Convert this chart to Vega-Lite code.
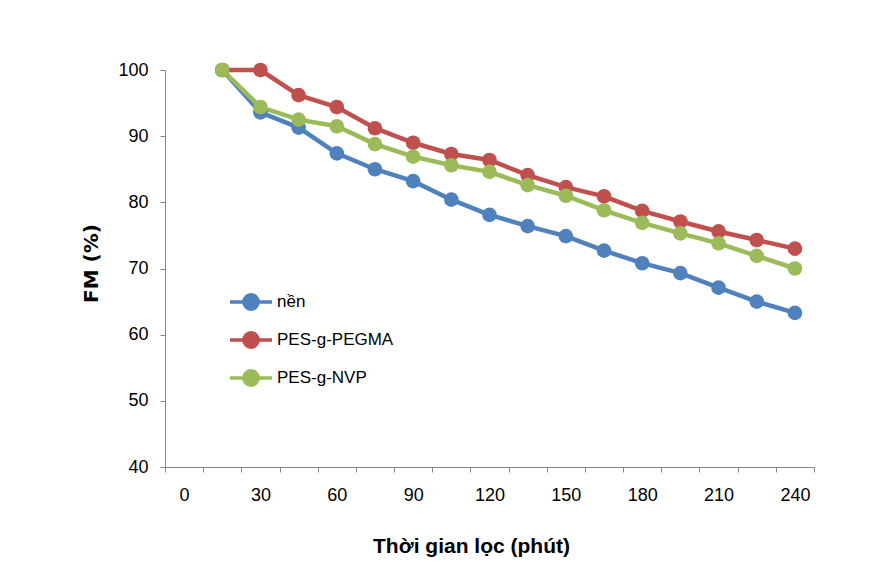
{
  "$schema": "https://vega.github.io/schema/vega-lite/v6.json",
  "width": 649,
  "height": 397,
  "autosize": "none",
  "padding": {"left": 165, "top": 70, "right": 79, "bottom": 115},
  "background": "white",
  "config": {
    "font": "Liberation Sans",
    "view": {"stroke": null},
    "axis": {
      "domainColor": "#868686",
      "tickColor": "#868686",
      "tickSize": 5,
      "grid": false,
      "labelColor": "#000000",
      "labelFontSize": 18,
      "labelFont": "Liberation Sans",
      "titleColor": "#000000"
    }
  },
  "data": {
    "values": [
      {"t": 15, "series": "nền", "fm": 100},
      {"t": 30, "series": "nền", "fm": 93.6},
      {"t": 45, "series": "nền", "fm": 91.3},
      {"t": 60, "series": "nền", "fm": 87.4},
      {"t": 75, "series": "nền", "fm": 85.0},
      {"t": 90, "series": "nền", "fm": 83.2},
      {"t": 105, "series": "nền", "fm": 80.4},
      {"t": 120, "series": "nền", "fm": 78.1},
      {"t": 135, "series": "nền", "fm": 76.4},
      {"t": 150, "series": "nền", "fm": 74.9},
      {"t": 165, "series": "nền", "fm": 72.7},
      {"t": 180, "series": "nền", "fm": 70.8},
      {"t": 195, "series": "nền", "fm": 69.3},
      {"t": 210, "series": "nền", "fm": 67.1},
      {"t": 225, "series": "nền", "fm": 65.0},
      {"t": 240, "series": "nền", "fm": 63.3},
      {"t": 15, "series": "PES-g-PEGMA", "fm": 100},
      {"t": 30, "series": "PES-g-PEGMA", "fm": 100},
      {"t": 45, "series": "PES-g-PEGMA", "fm": 96.2},
      {"t": 60, "series": "PES-g-PEGMA", "fm": 94.4},
      {"t": 75, "series": "PES-g-PEGMA", "fm": 91.2},
      {"t": 90, "series": "PES-g-PEGMA", "fm": 89.0},
      {"t": 105, "series": "PES-g-PEGMA", "fm": 87.3},
      {"t": 120, "series": "PES-g-PEGMA", "fm": 86.4},
      {"t": 135, "series": "PES-g-PEGMA", "fm": 84.1},
      {"t": 150, "series": "PES-g-PEGMA", "fm": 82.3},
      {"t": 165, "series": "PES-g-PEGMA", "fm": 80.9},
      {"t": 180, "series": "PES-g-PEGMA", "fm": 78.7},
      {"t": 195, "series": "PES-g-PEGMA", "fm": 77.1},
      {"t": 210, "series": "PES-g-PEGMA", "fm": 75.6},
      {"t": 225, "series": "PES-g-PEGMA", "fm": 74.3},
      {"t": 240, "series": "PES-g-PEGMA", "fm": 73.0},
      {"t": 15, "series": "PES-g-NVP", "fm": 100},
      {"t": 30, "series": "PES-g-NVP", "fm": 94.4},
      {"t": 45, "series": "PES-g-NVP", "fm": 92.5},
      {"t": 60, "series": "PES-g-NVP", "fm": 91.5},
      {"t": 75, "series": "PES-g-NVP", "fm": 88.8},
      {"t": 90, "series": "PES-g-NVP", "fm": 86.9},
      {"t": 105, "series": "PES-g-NVP", "fm": 85.6},
      {"t": 120, "series": "PES-g-NVP", "fm": 84.6},
      {"t": 135, "series": "PES-g-NVP", "fm": 82.6},
      {"t": 150, "series": "PES-g-NVP", "fm": 81.0},
      {"t": 165, "series": "PES-g-NVP", "fm": 78.8},
      {"t": 180, "series": "PES-g-NVP", "fm": 76.9},
      {"t": 195, "series": "PES-g-NVP", "fm": 75.3},
      {"t": 210, "series": "PES-g-NVP", "fm": 73.8},
      {"t": 225, "series": "PES-g-NVP", "fm": 71.9},
      {"t": 240, "series": "PES-g-NVP", "fm": 70.0}
    ]
  },
  "encoding": {
    "x": {
      "field": "t",
      "type": "ordinal",
      "bandPosition": 0.5,
      "scale": {
        "type": "band",
        "domain": [0, 15, 30, 45, 60, 75, 90, 105, 120, 135, 150, 165, 180, 195, 210, 225, 240],
        "paddingInner": 0,
        "paddingOuter": 0
      },
      "axis": {
        "title": "Thời gian lọc (phút)",
        "titleFontSize": 21,
        "titleFontWeight": "bold",
        "titlePadding": 31,
        "titleX": 306,
        "labelAngle": 0,
        "labelPadding": 14,
        "tickBand": "extent",
        "labelExpr": "datum.value % 30 === 0 ? datum.label : ''"
      }
    },
    "y": {
      "field": "fm",
      "type": "quantitative",
      "scale": {"domain": [40, 100], "nice": false, "zero": false},
      "axis": {
        "title": "FM (%)",
        "titleFont": "DejaVu Sans",
        "titleFontSize": 20,
        "titleFontWeight": "bold",
        "titlePadding": 16,
        "titleY": 193,
        "labelPadding": 12,
        "values": [40, 50, 60, 70, 80, 90, 100]
      }
    },
    "color": {
      "field": "series",
      "type": "nominal",
      "sort": ["nền", "PES-g-PEGMA", "PES-g-NVP"],
      "scale": {
        "domain": ["nền", "PES-g-PEGMA", "PES-g-NVP"],
        "range": ["#4F81BD", "#C0504D", "#9BBB59"]
      },
      "legend": {
        "title": null,
        "orient": "none",
        "legendX": 63,
        "legendY": 209,
        "padding": 0,
        "labelFontSize": 17,
        "labelColor": "#000000",
        "labelOffset": 3,
        "rowPadding": -3,
        "symbolType": "M-1,0L1,0M-0.34,0A0.34,0.34,0,1,1,0.34,0A0.34,0.34,0,1,1,-0.34,0Z",
        "symbolSize": 1764,
        "encode": {
          "symbols": {
            "update": {
              "fill": {"scale": "color", "field": "value"},
              "stroke": {"scale": "color", "field": "value"},
              "strokeWidth": {"value": 3.5},
              "size": {"value": 1764},
              "opacity": {"value": 1}
            }
          }
        }
      }
    },
    "order": {"field": "t", "type": "quantitative"}
  },
  "layer": [
    {"mark": {"type": "line", "strokeWidth": 4.5}},
    {"mark": {"type": "point", "filled": true, "shape": "circle", "size": 215, "opacity": 1}}
  ]
}
